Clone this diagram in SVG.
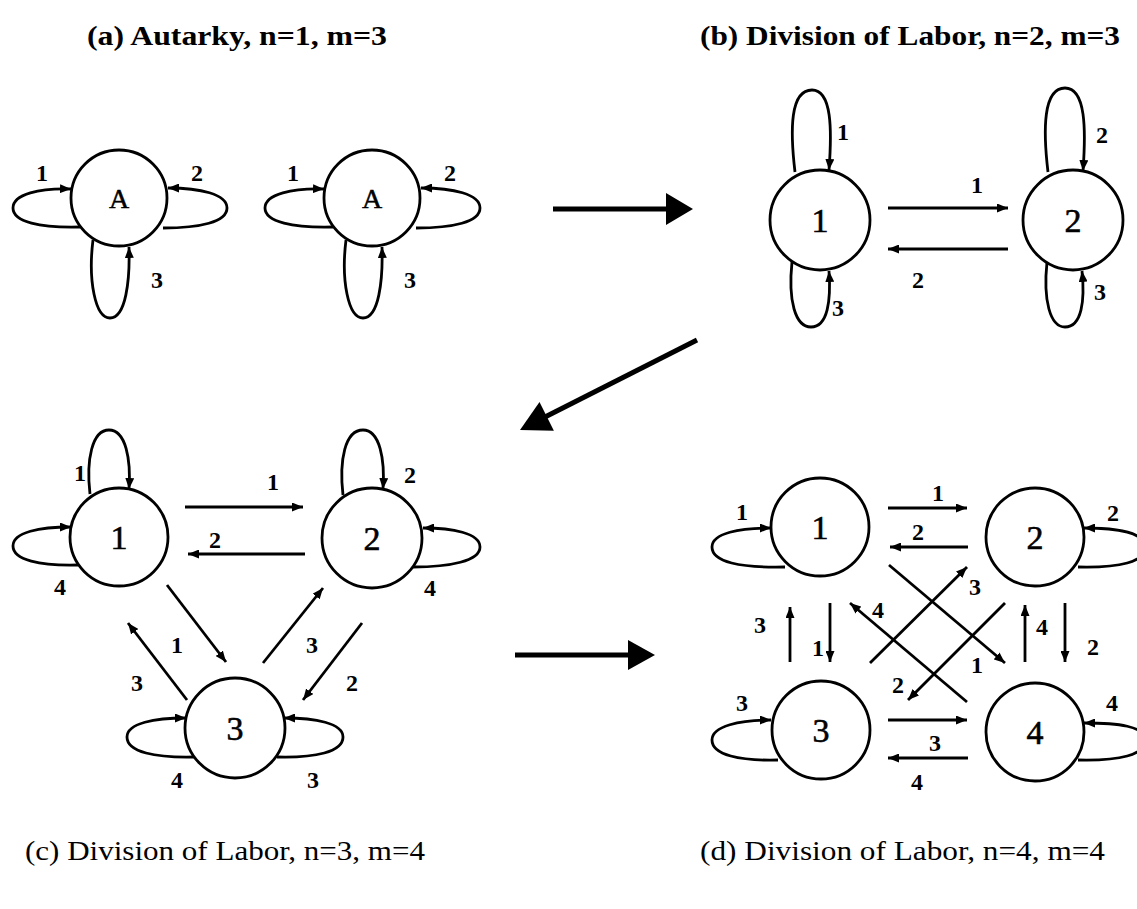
<svg xmlns="http://www.w3.org/2000/svg" width="1137" height="909" viewBox="0 0 1137 909">
<style>
  text { font-family: "Liberation Serif", "Times New Roman", serif; fill: #000; }
  .title { font-size: 28px; font-weight: bold; }
  .title2 { font-size: 28px; }
  .lbl { font-size: 24px; font-weight: bold; text-anchor: middle; }
  .nl { font-size: 34px; text-anchor: middle; stroke: #000; stroke-width: 0.6; }
  .nla { font-size: 28px; text-anchor: middle; stroke: #000; stroke-width: 0.5; }
  circle { fill: #fff; stroke: #000; stroke-width: 2.8; }
  .e { fill: none; stroke: #000; stroke-width: 2.8; marker-end: url(#ah); }
  .big { fill: none; stroke: #000; stroke-width: 5; }
</style>
<defs>
  <marker id="ah" markerUnits="userSpaceOnUse" markerWidth="11" markerHeight="9" refX="11" refY="4.5" orient="auto">
    <path d="M0,0 L11,4.5 L0,9 z" fill="#000"/>
  </marker>
</defs>
<rect width="1137" height="909" fill="#fff"/>

<text class="title" x="87" y="45" textLength="300" lengthAdjust="spacingAndGlyphs">(a) Autarky, n=1, m=3</text>
<text class="title" x="700" y="45" textLength="420" lengthAdjust="spacingAndGlyphs">(b) Division of Labor, n=2, m=3</text>
<text class="title2" x="25" y="860" textLength="400" lengthAdjust="spacingAndGlyphs">(c) Division of Labor, n=3, m=4</text>
<text class="title2" x="700" y="860" textLength="405" lengthAdjust="spacingAndGlyphs">(d) Division of Labor, n=4, m=4</text>

<g id="connectors">
  <!-- panel a -->
  <path class="e" d="M80,227 C40,228 13,222 13,208 C13,194 40,188 71,189"/>
  <path class="e" d="M163,228 C200,228 227,222 227,208 C227,194 200,188 168,188"/>
  <path class="e" d="M93,240 C88,280 95,318 110,318 C126,318 130,280 129,247"/>
  <path class="e" d="M333,227 C293,228 265,222 265,208 C265,194 293,188 324,189"/>
  <path class="e" d="M416,228 C453,228 480,222 480,208 C480,194 453,188 421,188"/>
  <path class="e" d="M346,240 C341,280 348,318 363,318 C379,318 383,280 382,247"/>
  <!-- big arrows -->
  <line class="big" x1="553" y1="209" x2="668" y2="209"/>
  <polygon points="693,209 666,193 666,225" fill="#000"/>
  <line class="big" x1="697" y1="340" x2="545" y2="417"/>
  <polygon points="520,430 553.9,430.7 539.5,402.1" fill="#000"/>
  <line class="big" x1="515" y1="655" x2="630" y2="655"/>
  <polygon points="655,655 628,640 628,670" fill="#000"/>
  <!-- panel b -->
  <path class="e" d="M795,172 C790,130 790,90 812,90 C832,90 832,130 829,170"/>
  <path class="e" d="M792,262 C788,300 795,327 811,327 C828,327 831,300 829,271"/>
  <path class="e" d="M1048,172 C1043,130 1043,88 1065,88 C1086,88 1086,130 1083,171"/>
  <path class="e" d="M1047,262 C1043,300 1050,327 1065,327 C1082,327 1085,300 1082,271"/>
  <path class="e" d="M888,208 L1008,208"/>
  <path class="e" d="M1008,249 L888,249"/>
  <!-- panel c -->
  <path class="e" d="M90,494 C86,460 92,430 109,430 C126,430 131,460 129,489"/>
  <path class="e" d="M78,565 C40,566 13,560 13,546 C13,532 40,527 71,527"/>
  <path class="e" d="M343,495 C339,460 345,430 363,430 C380,430 385,460 383,489"/>
  <path class="e" d="M413,567 C450,567 480,561 480,547 C480,533 452,528 423,528"/>
  <path class="e" d="M185,507 L303,507"/>
  <path class="e" d="M305,554 L188,554"/>
  <path class="e" d="M195,757 C155,758 127,752 127,737 C127,723 155,718 186,718"/>
  <path class="e" d="M277,757 C315,758 343,752 343,737 C343,723 315,718 284,718"/>
  <path class="e" d="M167,585 L226,662"/>
  <path class="e" d="M187,700 L128,623"/>
  <path class="e" d="M263,663 L323,588"/>
  <path class="e" d="M362,623 L303,700"/>
  <!-- panel d -->
  <path class="e" d="M785,567 C740,568 712,562 712,547 C712,533 740,528 771,528"/>
  <path class="e" d="M1078,567 C1120,568 1145,562 1145,547 C1145,533 1118,528 1084,528"/>
  <path class="e" d="M888,508 L967,508"/>
  <path class="e" d="M968,547 L890,547"/>
  <path class="e" d="M889,565 L1005,663"/>
  <path class="e" d="M870,663 L967,567"/>
  <path class="e" d="M967,702 L850,603"/>
  <path class="e" d="M1005,603 L908,700"/>
  <path class="e" d="M790,662 L790,607"/>
  <path class="e" d="M830,603 L830,662"/>
  <path class="e" d="M1025,662 L1025,605"/>
  <path class="e" d="M1065,603 L1065,662"/>
  <path class="e" d="M778,760 C740,761 712,755 712,740 C712,726 740,720 771,720"/>
  <path class="e" d="M1078,760 C1120,761 1145,755 1145,740 C1145,726 1118,723 1084,723"/>
  <path class="e" d="M888,720 L967,720"/>
  <path class="e" d="M968,758 L888,758"/>
</g>

<g id="edge-labels">
  <text class="lbl" x="42" y="181">1</text>
  <text class="lbl" x="197" y="181">2</text>
  <text class="lbl" x="157" y="288">3</text>
  <text class="lbl" x="293" y="181">1</text>
  <text class="lbl" x="450" y="181">2</text>
  <text class="lbl" x="410" y="288">3</text>

  <text class="lbl" x="843" y="140">1</text>
  <text class="lbl" x="838" y="316">3</text>
  <text class="lbl" x="1102" y="143">2</text>
  <text class="lbl" x="1100" y="300">3</text>
  <text class="lbl" x="977" y="193">1</text>
  <text class="lbl" x="918" y="288">2</text>

  <text class="lbl" x="80" y="481">1</text>
  <text class="lbl" x="60" y="595">4</text>
  <text class="lbl" x="410" y="483">2</text>
  <text class="lbl" x="430" y="596">4</text>
  <text class="lbl" x="273" y="490">1</text>
  <text class="lbl" x="215" y="548">2</text>
  <text class="lbl" x="177" y="788">4</text>
  <text class="lbl" x="313" y="788">3</text>
  <text class="lbl" x="177" y="653">1</text>
  <text class="lbl" x="137" y="691">3</text>
  <text class="lbl" x="312" y="653">3</text>
  <text class="lbl" x="352" y="691">2</text>

  <text class="lbl" x="742" y="520">1</text>
  <text class="lbl" x="1113" y="521">2</text>
  <text class="lbl" x="938" y="501">1</text>
  <text class="lbl" x="918" y="540">2</text>
  <text class="lbl" x="977" y="673">1</text>
  <text class="lbl" x="975" y="595">3</text>
  <text class="lbl" x="878" y="618">4</text>
  <text class="lbl" x="898" y="693">2</text>
  <text class="lbl" x="760" y="633">3</text>
  <text class="lbl" x="818" y="656">1</text>
  <text class="lbl" x="1042" y="635">4</text>
  <text class="lbl" x="1093" y="655">2</text>
  <text class="lbl" x="742" y="711">3</text>
  <text class="lbl" x="1112" y="711">4</text>
  <text class="lbl" x="935" y="751">3</text>
  <text class="lbl" x="917" y="790">4</text>
</g>

<g id="node-a1"><circle cx="119" cy="198" r="48"/><text class="nla" x="119" y="208">A</text></g>
<g id="node-a2"><circle cx="372" cy="198" r="48"/><text class="nla" x="372" y="208">A</text></g>
<g id="node-b1"><circle cx="820" cy="220" r="50"/><text class="nl" x="820" y="232">1</text></g>
<g id="node-b2"><circle cx="1073" cy="220" r="50"/><text class="nl" x="1073" y="232">2</text></g>
<g id="node-c1"><circle cx="119" cy="537" r="49"/><text class="nl" x="119" y="549">1</text></g>
<g id="node-c2"><circle cx="372" cy="538" r="50"/><text class="nl" x="372" y="550">2</text></g>
<g id="node-c3"><circle cx="235" cy="728" r="50"/><text class="nl" x="235" y="740">3</text></g>
<g id="node-d1"><circle cx="820" cy="527" r="49"/><text class="nl" x="820" y="539">1</text></g>
<g id="node-d2"><circle cx="1035" cy="537" r="49"/><text class="nl" x="1035" y="549">2</text></g>
<g id="node-d3"><circle cx="821" cy="730" r="49"/><text class="nl" x="821" y="742">3</text></g>
<g id="node-d4"><circle cx="1035" cy="732" r="49"/><text class="nl" x="1035" y="744">4</text></g>
</svg>
